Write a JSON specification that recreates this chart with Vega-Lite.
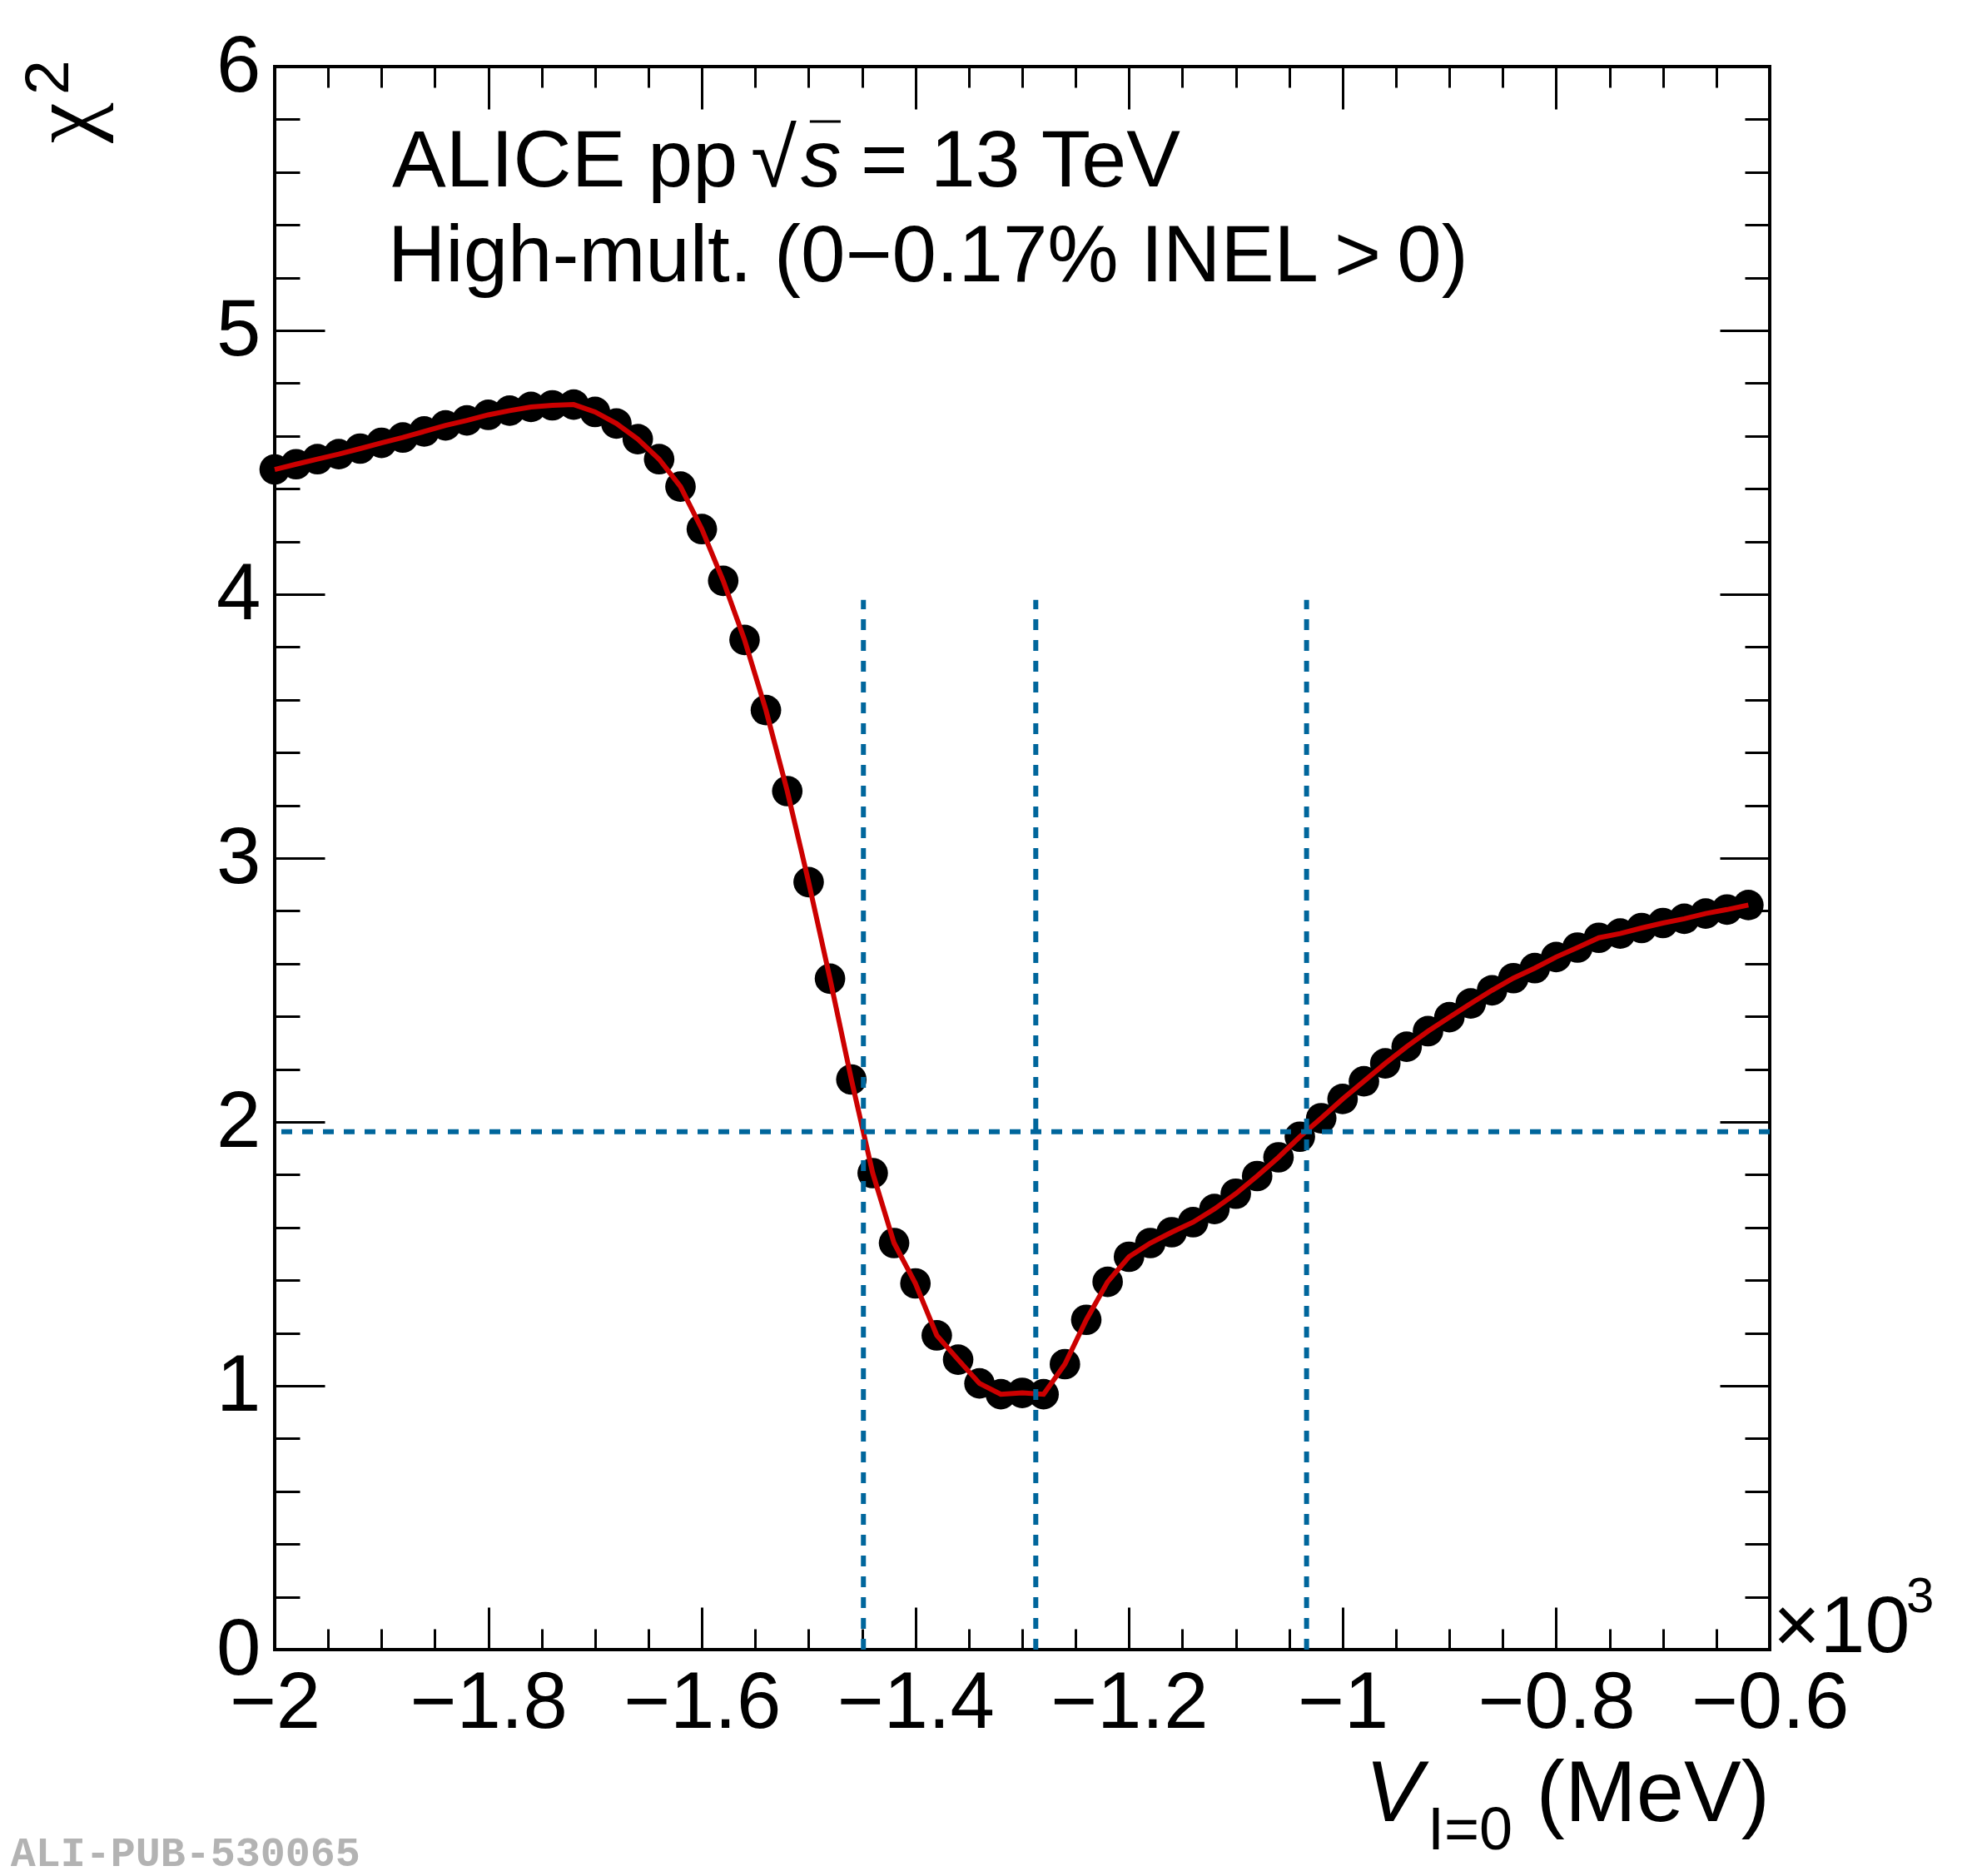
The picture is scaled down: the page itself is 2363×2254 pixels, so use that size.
{
  "$schema": "https://vega.github.io/schema/vega-lite/v6.json",
  "description": "ALICE pp 13 TeV high-multiplicity: chi2 scan versus V_I=0",
  "width": 1796,
  "height": 1902,
  "autosize": {"type": "none"},
  "padding": {"left": 330, "top": 80, "right": 237, "bottom": 272},
  "background": "white",
  "config": {
    "view": {"stroke": "black", "strokeWidth": 4},
    "font": "Liberation Sans",
    "text": {"font": "Liberation Sans", "color": "black"}
  },
  "datasets": {
    "scan": [
      {"v": -2, "chi2": 4.473}, {"v": -1.98, "chi2": 4.493}, {"v": -1.96, "chi2": 4.512},
      {"v": -1.94, "chi2": 4.531}, {"v": -1.92, "chi2": 4.552}, {"v": -1.9, "chi2": 4.574},
      {"v": -1.88, "chi2": 4.594}, {"v": -1.86, "chi2": 4.617}, {"v": -1.84, "chi2": 4.64},
      {"v": -1.82, "chi2": 4.659}, {"v": -1.8, "chi2": 4.68}, {"v": -1.78, "chi2": 4.696},
      {"v": -1.76, "chi2": 4.71}, {"v": -1.74, "chi2": 4.716}, {"v": -1.72, "chi2": 4.719},
      {"v": -1.7, "chi2": 4.691}, {"v": -1.68, "chi2": 4.647}, {"v": -1.66, "chi2": 4.588},
      {"v": -1.64, "chi2": 4.512}, {"v": -1.62, "chi2": 4.408}, {"v": -1.6, "chi2": 4.247},
      {"v": -1.58, "chi2": 4.051}, {"v": -1.56, "chi2": 3.827}, {"v": -1.54, "chi2": 3.561},
      {"v": -1.52, "chi2": 3.254}, {"v": -1.5, "chi2": 2.909}, {"v": -1.48, "chi2": 2.543},
      {"v": -1.46, "chi2": 2.161}, {"v": -1.44, "chi2": 1.806}, {"v": -1.42, "chi2": 1.541},
      {"v": -1.4, "chi2": 1.388}, {"v": -1.38, "chi2": 1.191}, {"v": -1.36, "chi2": 1.099},
      {"v": -1.34, "chi2": 1.009}, {"v": -1.32, "chi2": 0.968}, {"v": -1.3, "chi2": 0.973},
      {"v": -1.28, "chi2": 0.968}, {"v": -1.26, "chi2": 1.082}, {"v": -1.24, "chi2": 1.25},
      {"v": -1.22, "chi2": 1.394}, {"v": -1.2, "chi2": 1.489}, {"v": -1.18, "chi2": 1.541},
      {"v": -1.16, "chi2": 1.582}, {"v": -1.14, "chi2": 1.62}, {"v": -1.12, "chi2": 1.67},
      {"v": -1.1, "chi2": 1.728}, {"v": -1.08, "chi2": 1.795}, {"v": -1.06, "chi2": 1.866},
      {"v": -1.04, "chi2": 1.944}, {"v": -1.02, "chi2": 2.014}, {"v": -1, "chi2": 2.087},
      {"v": -0.98, "chi2": 2.154}, {"v": -0.96, "chi2": 2.222}, {"v": -0.94, "chi2": 2.285},
      {"v": -0.92, "chi2": 2.344}, {"v": -0.9, "chi2": 2.397}, {"v": -0.88, "chi2": 2.449},
      {"v": -0.86, "chi2": 2.499}, {"v": -0.84, "chi2": 2.545}, {"v": -0.82, "chi2": 2.583},
      {"v": -0.8, "chi2": 2.625}, {"v": -0.78, "chi2": 2.661}, {"v": -0.76, "chi2": 2.698},
      {"v": -0.74, "chi2": 2.714}, {"v": -0.72, "chi2": 2.735}, {"v": -0.7, "chi2": 2.754},
      {"v": -0.68, "chi2": 2.77}, {"v": -0.66, "chi2": 2.79}, {"v": -0.64, "chi2": 2.805},
      {"v": -0.62, "chi2": 2.822}
    ],
    "bounds": [
      {"v": -1.4487, "lo": 0, "hi": 3.979},
      {"v": -1.2873, "lo": 0, "hi": 3.979},
      {"v": -1.0337, "lo": 0, "hi": 3.979}
    ],
    "level": [{"chi2": 1.963}],
    "plain": [
      {"x": -1.8901, "y": 5.5457, "text": "ALICE pp"},
      {"x": -1.4512, "y": 5.5457, "text": "= 13 TeV"},
      {"x": -0.5969, "y": -0.0095, "text": "×10"}
    ],
    "line2": [{"x": -1.8940, "y": 5.1861, "text": "High-mult. (0\u22120.17% INEL\u2009>\u20090)"}],
    "radical": [{"x": -1.5541, "y": 5.5457, "text": "√"}],
    "italic": [{"x": -1.5074, "y": 5.5457, "text": "s"}],
    "overbar": [{"x": -1.4989, "x2": -1.4700, "y": 5.792}],
    "xtitle_main": [{"x": -0.9789, "y": -0.6498, "text": "V"}],
    "xtitle_unit": [{"x": -0.6, "y": -0.6498, "text": "(MeV)"}],
    "xtitle_sub": [{"x": -0.9204, "y": -0.7562, "text": "I=0"}],
    "exponent": [{"x": -0.4722, "y": 0.142, "text": "3"}],
    "ytitle": [{"x": -2.1691, "y": 5.7098, "text": "χ"}],
    "ytitle_sup": [{"x": -2.1933, "y": 5.8927, "text": "2"}],
    "tag": [{"x": -2.2473, "y": -0.8193, "text": "ALI-PUB-530065"}]
  },
  "resolve": {"axis": {"x": "independent", "y": "independent"}},
  "layer": [
    {
      "data": {"name": "scan"},
      "mark": {"type": "point", "shape": "circle", "filled": true, "size": 1345, "color": "black", "opacity": 1, "strokeWidth": 0},
      "encoding": {
        "x": {
          "field": "v", "type": "quantitative",
          "scale": {"domain": [-2, -0.6], "nice": false, "zero": false},
          "axis": {
            "orient": "bottom", "title": null, "grid": false, "domain": false, "ticks": false, "tickSize": 0,
            "values": [-2, -1.8, -1.6, -1.4, -1.2, -1, -0.8, -0.6], "format": "~g",
            "labelFont": "Liberation Sans", "labelFontSize": 96, "labelColor": "black",
            "labelPadding": 17, "labelBaseline": "top", "labelAlign": "center",
            "labelFlush": false, "labelOverlap": false, "labelLimit": 0
          }
        },
        "y": {
          "field": "chi2", "type": "quantitative",
          "scale": {"domain": [0, 6], "nice": false, "zero": false},
          "axis": {
            "orient": "left", "title": null, "grid": false, "domain": false, "ticks": false, "tickSize": 0,
            "values": [0, 1, 2, 3, 4, 5, 6], "format": "d",
            "labelFont": "Liberation Sans", "labelFontSize": 96, "labelColor": "black",
            "labelPadding": 17, "labelBaseline": "middle", "labelAlign": "right",
            "labelFlush": false, "labelOverlap": false, "labelLimit": 0
          }
        }
      }
    },
    {
      "data": {"name": "scan"},
      "mark": {"type": "line", "color": "#cc0000", "strokeWidth": 6},
      "encoding": {
        "x": {
          "field": "v", "type": "quantitative",
          "scale": {"domain": [-2, -0.6], "nice": false, "zero": false},
          "axis": {
            "orient": "bottom", "title": null, "grid": false, "domain": false, "labels": false,
            "values": [-2, -1.95, -1.9, -1.85, -1.8, -1.75, -1.7, -1.65, -1.6, -1.55, -1.5, -1.45, -1.4, -1.35, -1.3, -1.25, -1.2, -1.15, -1.1, -1.05, -1, -0.95, -0.9, -0.85, -0.8, -0.75, -0.7, -0.65, -0.6],
            "tickColor": "black", "tickWidth": 3,
            "tickSize": {"condition": {"test": "abs(datum.value * 5 - round(datum.value * 5)) < 0.001", "value": -51}, "value": -25}
          }
        },
        "y": {
          "field": "chi2", "type": "quantitative",
          "scale": {"domain": [0, 6], "nice": false, "zero": false},
          "axis": {
            "orient": "left", "title": null, "grid": false, "domain": false, "labels": false,
            "values": [0, 0.2, 0.4, 0.6, 0.8, 1, 1.2, 1.4, 1.6, 1.8, 2, 2.2, 2.4, 2.6, 2.8, 3, 3.2, 3.4, 3.6, 3.8, 4, 4.2, 4.4, 4.6, 4.8, 5, 5.2, 5.4, 5.6, 5.8, 6],
            "tickColor": "black", "tickWidth": 3,
            "tickSize": {"condition": {"test": "abs(datum.value - round(datum.value)) < 0.001", "value": -60}, "value": -30}
          }
        }
      }
    },
    {
      "data": {"name": "bounds"},
      "mark": {"type": "rule", "color": "#00669c", "strokeWidth": 6, "strokeDash": [13, 12]},
      "encoding": {
        "x": {
          "field": "v", "type": "quantitative",
          "scale": {"domain": [-2, -0.6], "nice": false, "zero": false},
          "axis": {
            "orient": "top", "title": null, "grid": false, "domain": false, "labels": false,
            "values": [-2, -1.95, -1.9, -1.85, -1.8, -1.75, -1.7, -1.65, -1.6, -1.55, -1.5, -1.45, -1.4, -1.35, -1.3, -1.25, -1.2, -1.15, -1.1, -1.05, -1, -0.95, -0.9, -0.85, -0.8, -0.75, -0.7, -0.65, -0.6],
            "tickColor": "black", "tickWidth": 3,
            "tickSize": {"condition": {"test": "abs(datum.value * 5 - round(datum.value * 5)) < 0.001", "value": -51}, "value": -25}
          }
        },
        "y": {
          "field": "lo", "type": "quantitative",
          "scale": {"domain": [0, 6], "nice": false, "zero": false},
          "axis": {
            "orient": "right", "title": null, "grid": false, "domain": false, "labels": false,
            "values": [0, 0.2, 0.4, 0.6, 0.8, 1, 1.2, 1.4, 1.6, 1.8, 2, 2.2, 2.4, 2.6, 2.8, 3, 3.2, 3.4, 3.6, 3.8, 4, 4.2, 4.4, 4.6, 4.8, 5, 5.2, 5.4, 5.6, 5.8, 6],
            "tickColor": "black", "tickWidth": 3,
            "tickSize": {"condition": {"test": "abs(datum.value - round(datum.value)) < 0.001", "value": -60}, "value": -30}
          }
        },
        "y2": {"field": "hi"}
      }
    },
    {
      "data": {"name": "level"},
      "mark": {"type": "rule", "color": "#00669c", "strokeWidth": 6, "strokeDash": [13, 12]},
      "encoding": {
        "y": {"field": "chi2", "type": "quantitative", "scale": {"domain": [0, 6], "nice": false, "zero": false}, "axis": null}
      }
    },
    {
      "data": {"name": "plain"},
      "mark": {"type": "text", "fontSize": 97, "align": "left", "baseline": "alphabetic"},
      "encoding": {
        "x": {"field": "x", "type": "quantitative", "scale": {"domain": [-2, -0.6], "nice": false, "zero": false}, "axis": null},
        "y": {"field": "y", "type": "quantitative", "scale": {"domain": [0, 6], "nice": false, "zero": false}, "axis": null},
        "text": {"field": "text"}
      }
    },
    {
      "data": {"name": "line2"},
      "mark": {"type": "text", "fontSize": 96, "align": "left", "baseline": "alphabetic"},
      "encoding": {
        "x": {"field": "x", "type": "quantitative", "axis": null},
        "y": {"field": "y", "type": "quantitative", "axis": null},
        "text": {"field": "text"}
      }
    },
    {
      "data": {"name": "radical"},
      "mark": {"type": "text", "fontSize": 100, "align": "left", "baseline": "alphabetic"},
      "encoding": {
        "x": {"field": "x", "type": "quantitative", "axis": null},
        "y": {"field": "y", "type": "quantitative", "axis": null},
        "text": {"field": "text"}
      }
    },
    {
      "data": {"name": "italic"},
      "mark": {"type": "text", "fontSize": 97, "fontStyle": "italic", "align": "left", "baseline": "alphabetic"},
      "encoding": {
        "x": {"field": "x", "type": "quantitative", "axis": null},
        "y": {"field": "y", "type": "quantitative", "axis": null},
        "text": {"field": "text"}
      }
    },
    {
      "data": {"name": "overbar"},
      "mark": {"type": "rule", "color": "black", "strokeWidth": 3},
      "encoding": {
        "x": {"field": "x", "type": "quantitative", "axis": null},
        "x2": {"field": "x2"},
        "y": {"field": "y", "type": "quantitative", "axis": null}
      }
    },
    {
      "data": {"name": "xtitle_main"},
      "mark": {"type": "text", "fontSize": 103, "fontStyle": "italic", "align": "left", "baseline": "alphabetic"},
      "encoding": {
        "x": {"field": "x", "type": "quantitative", "axis": null},
        "y": {"field": "y", "type": "quantitative", "axis": null},
        "text": {"field": "text"}
      }
    },
    {
      "data": {"name": "xtitle_unit"},
      "mark": {"type": "text", "fontSize": 103, "align": "right", "baseline": "alphabetic"},
      "encoding": {
        "x": {"field": "x", "type": "quantitative", "axis": null},
        "y": {"field": "y", "type": "quantitative", "axis": null},
        "text": {"field": "text"}
      }
    },
    {
      "data": {"name": "xtitle_sub"},
      "mark": {"type": "text", "fontSize": 72, "align": "left", "baseline": "alphabetic"},
      "encoding": {
        "x": {"field": "x", "type": "quantitative", "axis": null},
        "y": {"field": "y", "type": "quantitative", "axis": null},
        "text": {"field": "text"}
      }
    },
    {
      "data": {"name": "exponent"},
      "mark": {"type": "text", "fontSize": 60, "align": "left", "baseline": "alphabetic"},
      "encoding": {
        "x": {"field": "x", "type": "quantitative", "axis": null},
        "y": {"field": "y", "type": "quantitative", "axis": null},
        "text": {"field": "text"}
      }
    },
    {
      "data": {"name": "ytitle"},
      "mark": {"type": "text", "font": "Liberation Serif", "fontSize": 110, "angle": 270, "align": "left", "baseline": "alphabetic"},
      "encoding": {
        "x": {"field": "x", "type": "quantitative", "axis": null},
        "y": {"field": "y", "type": "quantitative", "axis": null},
        "text": {"field": "text"}
      }
    },
    {
      "data": {"name": "ytitle_sup"},
      "mark": {"type": "text", "fontSize": 75, "angle": 270, "align": "left", "baseline": "alphabetic"},
      "encoding": {
        "x": {"field": "x", "type": "quantitative", "axis": null},
        "y": {"field": "y", "type": "quantitative", "axis": null},
        "text": {"field": "text"}
      }
    },
    {
      "data": {"name": "tag"},
      "mark": {"type": "text", "font": "Liberation Mono", "fontWeight": "bold", "fontSize": 50, "color": "#b3b3b3", "align": "left", "baseline": "alphabetic"},
      "encoding": {
        "x": {"field": "x", "type": "quantitative", "axis": null},
        "y": {"field": "y", "type": "quantitative", "axis": null},
        "text": {"field": "text"}
      }
    }
  ]
}
